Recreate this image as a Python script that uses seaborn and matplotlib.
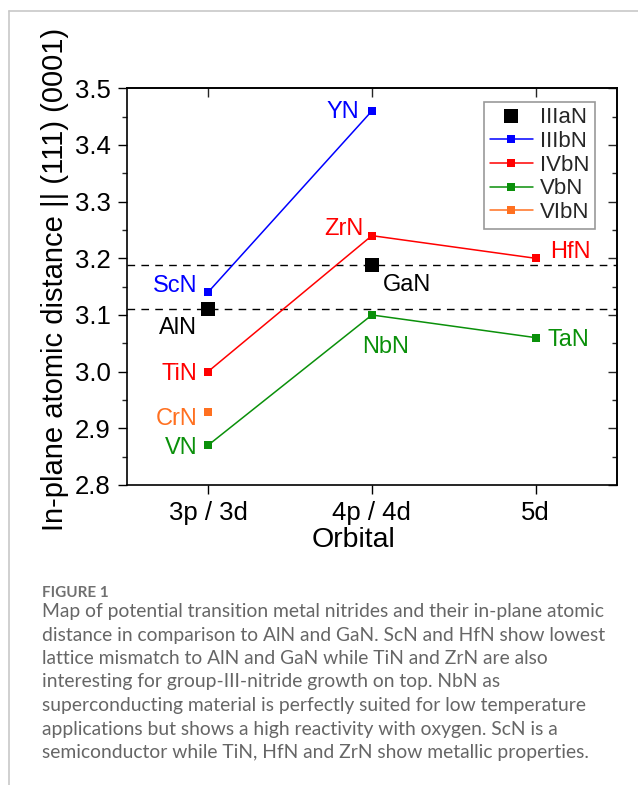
import matplotlib
matplotlib.use("Agg")
import matplotlib.pyplot as plt
from matplotlib.lines import Line2D
from matplotlib.ticker import MultipleLocator, FormatStrFormatter, NullFormatter
import seaborn as sns
import pandas as pd

# ---------------- data ----------------
orbitals = ["3p / 3d", "4p / 4d", "5d"]

iiia_names = ["AlN", "GaN"]
iiia_orbital = ["3p / 3d", "4p / 4d"]
iiia_values = [3.11, 3.188]

iiib_names = ["ScN", "YN"]
iiib_orbital = ["3p / 3d", "4p / 4d"]
iiib_values = [3.14, 3.46]

ivb_names = ["TiN", "ZrN", "HfN"]
ivb_orbital = ["3p / 3d", "4p / 4d", "5d"]
ivb_values = [3.00, 3.24, 3.20]

vb_names = ["VN", "NbN", "TaN"]
vb_orbital = ["3p / 3d", "4p / 4d", "5d"]
vb_values = [2.87, 3.10, 3.06]

vib_names = ["CrN"]
vib_orbital = ["3p / 3d"]
vib_values = [2.928]

reference_lines = [3.11, 3.188]   # AlN, GaN

series_order = ["IIIaN", "IIIbN", "IVbN", "VbN", "VIbN"]
colors = {"IIIaN": "#000000", "IIIbN": "#0000ff", "IVbN": "#ff0000",
          "VbN": "#0a900a", "VIbN": "#ff7020"}

caption_title = "FIGURE 1"
caption_lines = [
    "Map of potential transition metal nitrides and their in-plane atomic",
    "distance in comparison to AlN and GaN. ScN and HfN show lowest",
    "lattice mismatch to AlN and GaN while TiN and ZrN are also",
    "interesting for group-III-nitride growth on top. NbN as",
    "superconducting material is perfectly suited for low temperature",
    "applications but shows a high reactivity with oxygen. ScN is a",
    "semiconductor while TiN, HfN and ZrN show metallic properties.",
]

rows = []
for grp, names, orbs, vals in [("IIIaN", iiia_names, iiia_orbital, iiia_values),
                               ("IIIbN", iiib_names, iiib_orbital, iiib_values),
                               ("IVbN", ivb_names, ivb_orbital, ivb_values),
                               ("VbN", vb_names, vb_orbital, vb_values),
                               ("VIbN", vib_names, vib_orbital, vib_values)]:
    for n, o, v in zip(names, orbs, vals):
        rows.append({"group": grp, "name": n, "orbital": o,
                     "x": orbitals.index(o), "value": v})
df = pd.DataFrame(rows)

# label placement (offset in points, horizontal alignment)
label_style = {
    "YN": (-9.4, -5.4, "right"), "ScN": (-7.9, 0.1, "right"),
    "AlN": (-7.9, -18.0, "right"), "GaN": (7.7, -19.0, "left"),
    "ZrN": (-5.8, 0.6, "right"), "HfN": (10.3, 0.3, "left"),
    "TiN": (-7.9, -6.2, "right"), "CrN": (-7.2, -8.7, "right"),
    "VN": (-7.2, -6.2, "right"), "NbN": (9.9, -27.4, "center"),
    "TaN": (8.4, -6.2, "left"),
}

# ---------------- plot ----------------
sns.set_theme(style="ticks")
plt.rcParams["font.family"] = ["Liberation Sans", "DejaVu Sans"]
plt.rcParams["axes.edgecolor"] = "black"

fig = plt.figure(figsize=(6.38, 7.85), dpi=100)
ax = fig.add_axes([0.1986, 0.3822, 0.768, 0.5053])

for v in reference_lines:
    ax.axhline(v, color="black", lw=1.0, ls=(0, (5.5, 4.5)), zorder=1)

line_groups = series_order[1:]
sns.lineplot(data=df[df.group != "IIIaN"], x="x", y="value", hue="group",
             hue_order=line_groups, palette=[colors[g] for g in line_groups],
             marker="s", markersize=6.2, markeredgewidth=0, linewidth=1.1,
             estimator=None, sort=False, legend=False, ax=ax, zorder=3)
sns.scatterplot(data=df[df.group == "IIIaN"], x="x", y="value", color="black",
                marker="s", s=100, linewidth=0, legend=False, ax=ax, zorder=4)

for _, r in df.iterrows():
    dx, dy, ha = label_style[r["name"]]
    ax.annotate(r["name"], xy=(r["x"], r["value"]), xytext=(dx, dy),
                textcoords="offset points", ha=ha, va="baseline",
                fontsize=17, color=colors[r["group"]])

ax.set_xlim(-0.496, 2.494)
ax.set_ylim(2.8, 3.5)
ax.set_xticks(range(len(orbitals)))
ax.set_xticklabels(orbitals)
ax.yaxis.set_major_locator(MultipleLocator(0.1))
ax.yaxis.set_minor_locator(MultipleLocator(0.05))
ax.yaxis.set_major_formatter(FormatStrFormatter("%.1f"))
ax.tick_params(which="major", direction="out", length=6.5, width=1.0,
               labelsize=18.5, pad=5, colors="black")
ax.tick_params(which="minor", direction="out", length=3.6, width=1.0)
ax.tick_params(axis="x", which="minor", bottom=False)
for s in ax.spines.values():
    s.set_linewidth(1.2)
    s.set_visible(True)

secy = ax.secondary_yaxis("right")
secy.yaxis.set_major_locator(MultipleLocator(0.1))
secy.yaxis.set_minor_locator(MultipleLocator(0.05))
secy.yaxis.set_major_formatter(NullFormatter())
secy.tick_params(which="major", direction="in", length=6.5, width=1.0)
secy.tick_params(which="minor", direction="in", length=3.6, width=1.0)
secy.spines["right"].set_linewidth(1.2)

secx = ax.secondary_xaxis("top")
secx.set_xticks(range(len(orbitals)))
secx.xaxis.set_major_formatter(NullFormatter())
secx.tick_params(which="major", direction="in", length=6.5, width=1.0)
secx.tick_params(which="minor", top=False)
secx.spines["top"].set_linewidth(1.2)

ax.set_xlabel("Orbital", fontsize=20.5, color="black")
ax.set_ylabel("In-plane atomic distance || (111) (0001)", fontsize=21, color="black")
ax.xaxis.set_label_coords(0.463, -0.105)
ax.yaxis.set_label_coords(-0.118, 0.519)

handles = []
for g in series_order:
    if g == "IIIaN":
        handles.append(Line2D([], [], ls="none", marker="s", markersize=10,
                              color=colors[g], markeredgewidth=0, label=g))
    else:
        handles.append(Line2D([], [], color=colors[g], lw=1.1, marker="s",
                              markersize=6.2, markeredgewidth=0, label=g))
leg = ax.legend(handles=handles, loc="upper right", bbox_to_anchor=(0.955, 0.966),
                fontsize=16, frameon=True, fancybox=False, framealpha=1,
                edgecolor="#999999", handlelength=1.95, handletextpad=0.3,
                labelspacing=0.12, borderpad=0.25, borderaxespad=0)
leg.get_frame().set_linewidth(1.2)

# ---------------- caption & frame ----------------
fig.add_artist(Line2D([9 / 638, 1], [1 - 11 / 785] * 2, transform=fig.transFigure,
                      color="#c8c8c8", lw=1.2))
fig.add_artist(Line2D([9 / 638] * 2, [1 - 11 / 785, 0], transform=fig.transFigure,
                      color="#c8c8c8", lw=1.2))

fig.text(41.7 / 638, 1 - 597 / 785, caption_title, fontsize=11, fontweight="bold",
         color="#707070", family=["Lato", "DejaVu Sans"], va="baseline")
for i, line in enumerate(caption_lines):
    fig.text(41.7 / 638, 1 - (617 + 23.5 * i) / 785, line, fontsize=13.9,
             color="#666666", family=["Lato", "DejaVu Sans"], va="baseline")

fig.savefig("out.png", dpi=100)
